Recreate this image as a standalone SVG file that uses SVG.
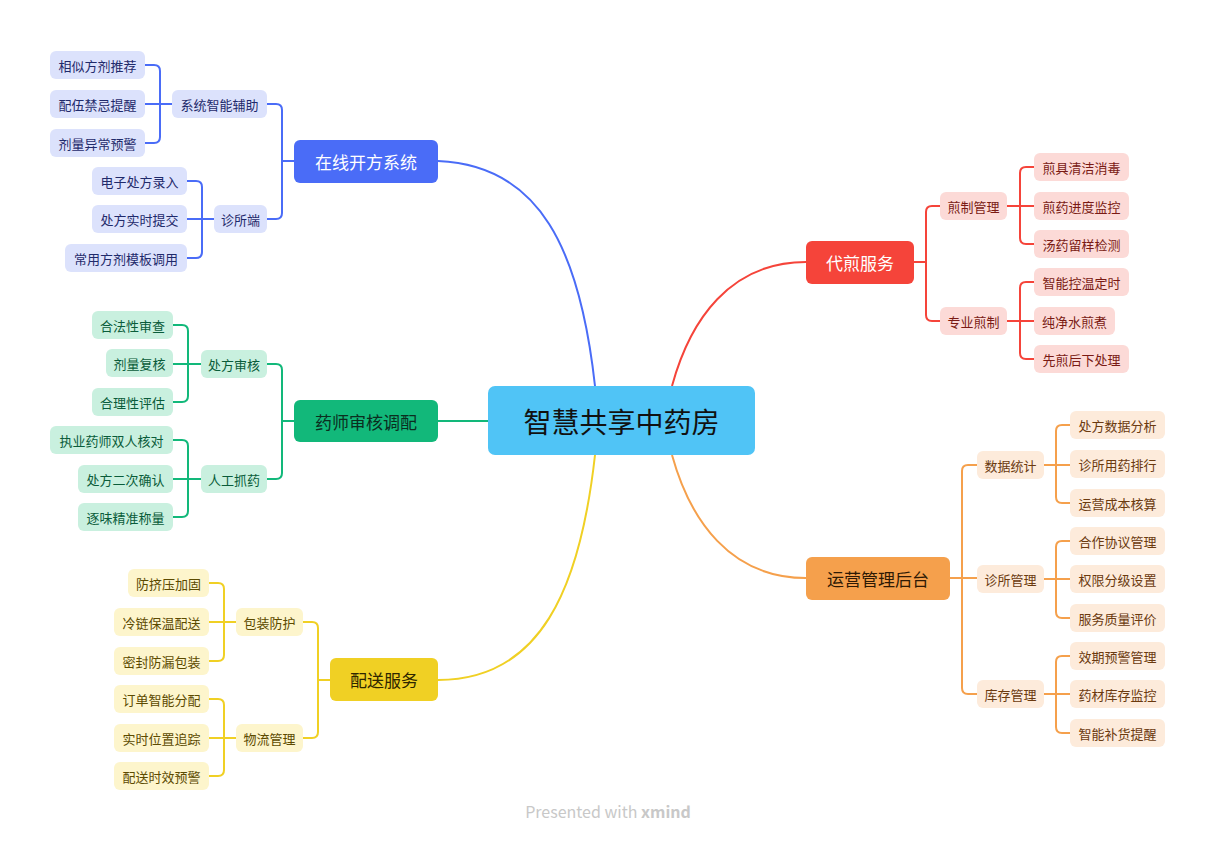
<svg xmlns="http://www.w3.org/2000/svg" width="1216" height="842" viewBox="0 0 1216 842">
<style>
text{font-family:"Noto Sans CJK SC","Noto Sans",sans-serif;text-anchor:middle;dominant-baseline:central}
.m{font-size:17px}.s{font-size:13px}
.c path{fill:none;stroke-width:2}
.b{stroke:#4a6cf7}.g{stroke:#12b87a}.y{stroke:#f0d024}.r{stroke:#f5443a}.o{stroke:#f5a04c}
.sb{fill:#dce2fc}.tb{fill:#1f2a6b}
.sg{fill:#c9f0df}.tg{fill:#0a5c3a}
.sy{fill:#fdf5cc}.ty{fill:#5c4a00}
.sr{fill:#fcdad7}.tr{fill:#7a1a14}
.so{fill:#fdebdb}.to{fill:#6b3a0f}
</style>
<rect width="1216" height="842" fill="#fff"/>
<g class="c" id="connectors">
<path class="b" stroke-width="3" d="M595 386C580 250 540 165 438 161"/>
<path class="y" stroke-width="3" d="M595 455C580 590 540 680 438 680"/>
<path class="g" stroke-width="3" d="M488 421H438"/>
<path class="r" stroke-width="3" d="M672 386C690 320 730 262 806 262"/>
<path class="o" stroke-width="3" d="M672 455C690 520 730 578 806 578"/>
<path class="b" d="M294 161H282V110Q282 104 276 104H267M294 161H282V213Q282 219 276 219H267M172 104H160V71Q160 65 154 65H145M172 104H145M172 104H160V137Q160 143 154 143H145M214 219H202V187Q202 181 196 181H187M214 219H187M214 219H202V252Q202 258 196 258H187"/>
<path class="g" d="M294 421H282V370Q282 364 276 364H267M294 421H282V473Q282 479 276 479H267M201 364H188V331Q188 325 182 325H173M201 364H173M201 364H188V396Q188 402 182 402H173M201 479H188V446Q188 440 182 440H173M201 479H173M201 479H188V511Q188 517 182 517H173"/>
<path class="y" d="M330 680H318V628Q318 622 312 622H303M330 680H318V732Q318 738 312 738H303M236 622H224V589Q224 583 218 583H209M236 622H209M236 622H224V655Q224 661 218 661H209M236 738H224V705Q224 699 218 699H209M236 738H209M236 738H224V770Q224 776 218 776H209"/>
<path class="r" d="M914 262H926V212Q926 206 932 206H940M914 262H926V315Q926 321 932 321H940M1007 206H1020V173Q1020 167 1026 167H1034M1007 206H1034M1007 206H1020V238Q1020 244 1026 244H1034M1007 321H1020V288Q1020 282 1026 282H1034M1007 321H1034M1007 321H1020V353Q1020 359 1026 359H1034"/>
<path class="o" d="M950 578H962V471Q962 465 968 465H977M950 578H977M950 578H962V688Q962 694 968 694H977M1044 465H1056V431Q1056 425 1062 425H1070M1044 465H1070M1044 465H1056V497Q1056 503 1062 503H1070M1044 579H1056V547Q1056 541 1062 541H1070M1044 579H1070M1044 579H1056V612Q1056 618 1062 618H1070M1044 694H1056V662Q1056 656 1062 656H1070M1044 694H1070M1044 694H1056V727Q1056 733 1062 733H1070"/>
</g>
<g id="center"><rect x="488" y="386" width="267" height="69" rx="7" fill="#50c4f6"/><text x="621.5" y="421" font-size="28" fill="#111">智慧共享中药房</text></g>
<g id="t1"><rect x="294" y="140" width="144" height="43" rx="6" fill="#4a6cf7"/><text class="m" x="366" y="161.5" fill="#fff">在线开方系统</text></g>
<g id="t2"><rect x="294" y="400" width="144" height="42" rx="6" fill="#12b87a"/><text class="m" x="366" y="421" fill="#0b2e1f">药师审核调配</text></g>
<g id="t3"><rect x="330" y="658" width="108" height="43" rx="6" fill="#f0d024"/><text class="m" x="384" y="679.5" fill="#2e2600">配送服务</text></g>
<g id="t4"><rect x="806" y="241" width="108" height="43" rx="6" fill="#f5443a"/><text class="m" x="860" y="262.5" fill="#fff">代煎服务</text></g>
<g id="t5"><rect x="806" y="557" width="144" height="43" rx="6" fill="#f5a04c"/><text class="m" x="878" y="578.5" fill="#2e1a05">运营管理后台</text></g>

<g id="b1"><rect class="sb" x="172" y="90" width="95" height="28" rx="6"/><text class="s tb" x="219.5" y="104">系统智能辅助</text></g>
<g id="b2"><rect class="sb" x="214" y="205" width="53" height="28" rx="6"/><text class="s tb" x="240.5" y="219">诊所端</text></g>
<g id="b11"><rect class="sb" x="50" y="51" width="95" height="28" rx="6"/><text class="s tb" x="97.5" y="65">相似方剂推荐</text></g>
<g id="b12"><rect class="sb" x="50" y="90" width="95" height="28" rx="6"/><text class="s tb" x="97.5" y="104">配伍禁忌提醒</text></g>
<g id="b13"><rect class="sb" x="50" y="129" width="95" height="28" rx="6"/><text class="s tb" x="97.5" y="143">剂量异常预警</text></g>
<g id="b21"><rect class="sb" x="92" y="167" width="95" height="28" rx="6"/><text class="s tb" x="139.5" y="181">电子处方录入</text></g>
<g id="b22"><rect class="sb" x="92" y="205" width="95" height="28" rx="6"/><text class="s tb" x="139.5" y="219">处方实时提交</text></g>
<g id="b23"><rect class="sb" x="65" y="244" width="122" height="28" rx="6"/><text class="s tb" x="126" y="258">常用方剂模板调用</text></g>

<g id="g1"><rect class="sg" x="201" y="350" width="66" height="28" rx="6"/><text class="s tg" x="234" y="364">处方审核</text></g>
<g id="g2"><rect class="sg" x="201" y="465" width="66" height="28" rx="6"/><text class="s tg" x="234" y="479">人工抓药</text></g>
<g id="g11"><rect class="sg" x="92" y="311" width="81" height="28" rx="6"/><text class="s tg" x="132.5" y="325">合法性审查</text></g>
<g id="g12"><rect class="sg" x="106" y="349" width="67" height="28" rx="6"/><text class="s tg" x="139.5" y="363">剂量复核</text></g>
<g id="g13"><rect class="sg" x="92" y="388" width="81" height="28" rx="6"/><text class="s tg" x="132.5" y="402">合理性评估</text></g>
<g id="g21"><rect class="sg" x="50" y="426" width="123" height="28" rx="6"/><text class="s tg" x="111.5" y="440">执业药师双人核对</text></g>
<g id="g22"><rect class="sg" x="78" y="465" width="95" height="28" rx="6"/><text class="s tg" x="125.5" y="479">处方二次确认</text></g>
<g id="g23"><rect class="sg" x="78" y="503" width="95" height="28" rx="6"/><text class="s tg" x="125.5" y="517">逐味精准称量</text></g>

<g id="y1"><rect class="sy" x="236" y="608" width="67" height="28" rx="6"/><text class="s ty" x="269.5" y="622">包装防护</text></g>
<g id="y2"><rect class="sy" x="236" y="724" width="67" height="28" rx="6"/><text class="s ty" x="269.5" y="738">物流管理</text></g>
<g id="y11"><rect class="sy" x="128" y="569" width="81" height="28" rx="6"/><text class="s ty" x="168.5" y="583">防挤压加固</text></g>
<g id="y12"><rect class="sy" x="114" y="608" width="95" height="28" rx="6"/><text class="s ty" x="161.5" y="622">冷链保温配送</text></g>
<g id="y13"><rect class="sy" x="114" y="647" width="95" height="28" rx="6"/><text class="s ty" x="161.5" y="661">密封防漏包装</text></g>
<g id="y21"><rect class="sy" x="114" y="685" width="95" height="28" rx="6"/><text class="s ty" x="161.5" y="699">订单智能分配</text></g>
<g id="y22"><rect class="sy" x="114" y="724" width="95" height="28" rx="6"/><text class="s ty" x="161.5" y="738">实时位置追踪</text></g>
<g id="y23"><rect class="sy" x="114" y="762" width="95" height="28" rx="6"/><text class="s ty" x="161.5" y="776">配送时效预警</text></g>

<g id="r1"><rect class="sr" x="940" y="192" width="67" height="28" rx="6"/><text class="s tr" x="973.5" y="206">煎制管理</text></g>
<g id="r2"><rect class="sr" x="940" y="307" width="67" height="28" rx="6"/><text class="s tr" x="973.5" y="321">专业煎制</text></g>
<g id="r11"><rect class="sr" x="1034" y="153" width="95" height="28" rx="6"/><text class="s tr" x="1081.5" y="167">煎具清洁消毒</text></g>
<g id="r12"><rect class="sr" x="1034" y="192" width="95" height="28" rx="6"/><text class="s tr" x="1081.5" y="206">煎药进度监控</text></g>
<g id="r13"><rect class="sr" x="1034" y="230" width="95" height="28" rx="6"/><text class="s tr" x="1081.5" y="244">汤药留样检测</text></g>
<g id="r21"><rect class="sr" x="1034" y="268" width="95" height="28" rx="6"/><text class="s tr" x="1081.5" y="282">智能控温定时</text></g>
<g id="r22"><rect class="sr" x="1034" y="307" width="81" height="28" rx="6"/><text class="s tr" x="1074.5" y="321">纯净水煎煮</text></g>
<g id="r23"><rect class="sr" x="1034" y="345" width="95" height="28" rx="6"/><text class="s tr" x="1081.5" y="359">先煎后下处理</text></g>

<g id="o1"><rect class="so" x="977" y="451" width="67" height="28" rx="6"/><text class="s to" x="1010.5" y="465">数据统计</text></g>
<g id="o2"><rect class="so" x="977" y="565" width="67" height="28" rx="6"/><text class="s to" x="1010.5" y="579">诊所管理</text></g>
<g id="o3"><rect class="so" x="977" y="680" width="67" height="28" rx="6"/><text class="s to" x="1010.5" y="694">库存管理</text></g>
<g id="o11"><rect class="so" x="1070" y="411" width="95" height="28" rx="6"/><text class="s to" x="1117.5" y="425">处方数据分析</text></g>
<g id="o12"><rect class="so" x="1070" y="450" width="95" height="28" rx="6"/><text class="s to" x="1117.5" y="464">诊所用药排行</text></g>
<g id="o13"><rect class="so" x="1070" y="489" width="95" height="28" rx="6"/><text class="s to" x="1117.5" y="503">运营成本核算</text></g>
<g id="o21"><rect class="so" x="1070" y="527" width="95" height="28" rx="6"/><text class="s to" x="1117.5" y="541">合作协议管理</text></g>
<g id="o22"><rect class="so" x="1070" y="565" width="95" height="28" rx="6"/><text class="s to" x="1117.5" y="579">权限分级设置</text></g>
<g id="o23"><rect class="so" x="1070" y="604" width="95" height="28" rx="6"/><text class="s to" x="1117.5" y="618">服务质量评价</text></g>
<g id="o31"><rect class="so" x="1070" y="642" width="95" height="28" rx="6"/><text class="s to" x="1117.5" y="656">效期预警管理</text></g>
<g id="o32"><rect class="so" x="1070" y="680" width="95" height="28" rx="6"/><text class="s to" x="1117.5" y="694">药材库存监控</text></g>
<g id="o33"><rect class="so" x="1070" y="719" width="95" height="28" rx="6"/><text class="s to" x="1117.5" y="733">智能补货提醒</text></g>

<text x="608" y="811" font-size="16" fill="#c8c8c8" font-family="Inter,sans-serif">Presented with <tspan font-weight="bold">xmind</tspan></text>
</svg>
